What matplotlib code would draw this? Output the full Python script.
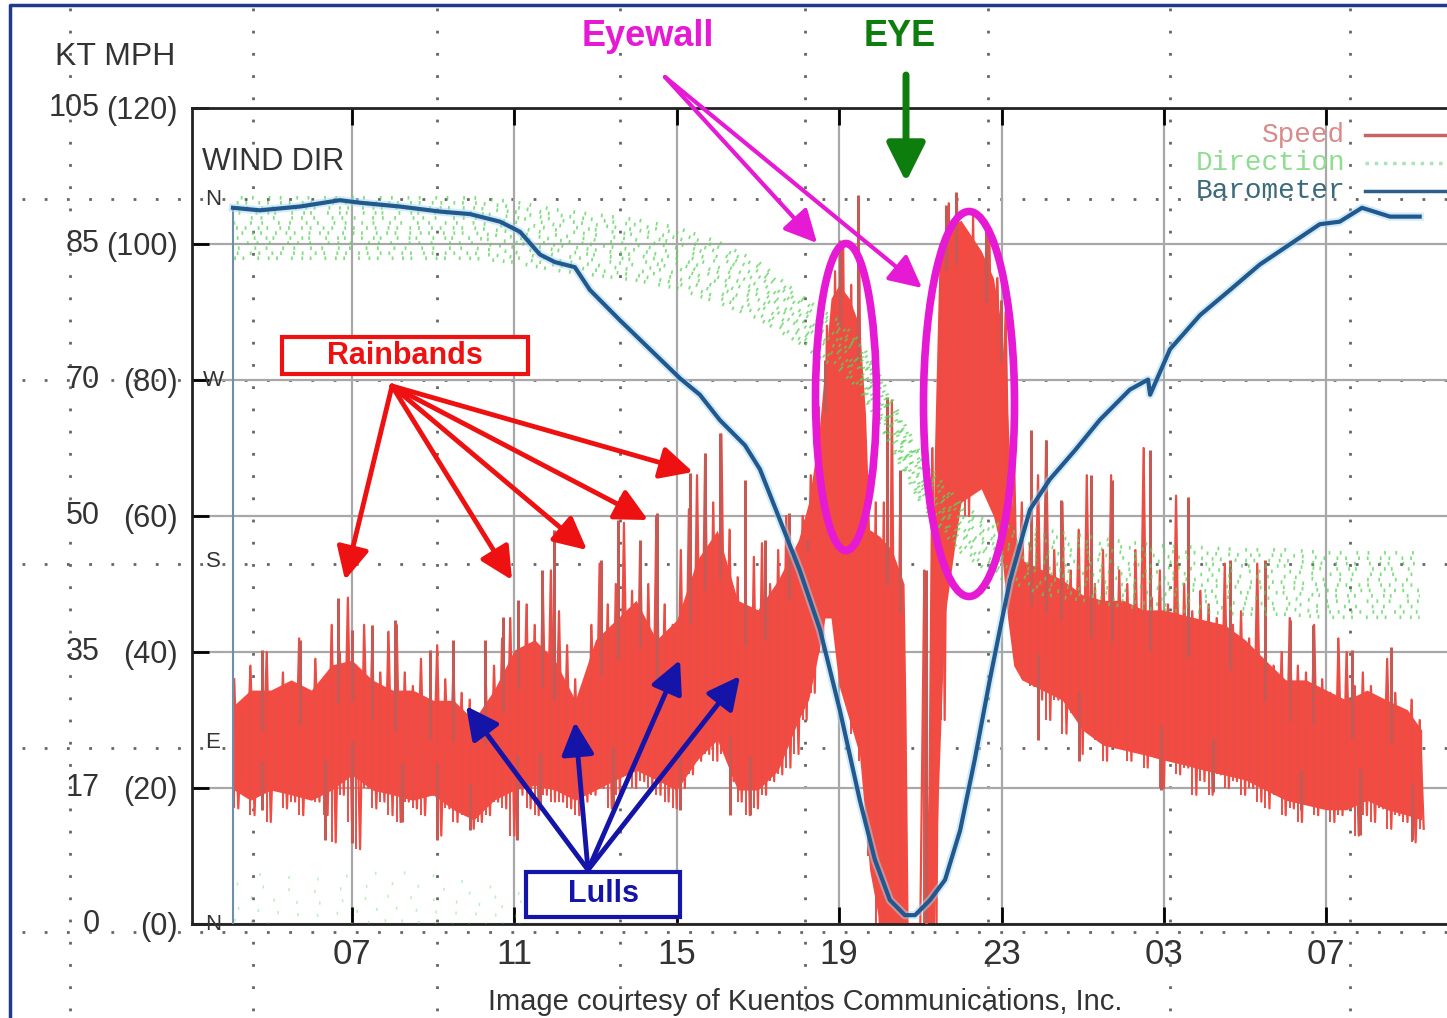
import numpy as np
import matplotlib
matplotlib.use("Agg")
import matplotlib.pyplot as plt
from matplotlib import font_manager as fm
from matplotlib.patches import Ellipse, Rectangle

#   Fonts: a narrow sans for the axis text if there is one
names = {f.name for f in fm.fontManager.ttflist}
NARROW = "Liberation Sans Narrow" if "Liberation Sans Narrow" in names else "Liberation Sans"
SANS = "Liberation Sans"
MONO = "Liberation Mono"

#   Axis ticks and labels (x in hours since midnight of day 1)
hour_ticks = [7, 11, 15, 19, 23, 27, 31]
hour_labels = ["07", "11", "15", "19", "23", "03", "07"]
mph_ticks = [0, 20, 40, 60, 80, 100, 120]
mph_labels = ["(0)", "(20)", "(40)", "(60)", "(80)", "(100)", "(120)"]
kt_labels = ["0", "17", "35", "50", "70", "85", "105"]
dir_ticks = [0, 90, 180, 270, 360]
dir_labels = ["N", "E", "S", "W", "N"]

#   Wind speed (mph): body of the trace, low and high edge
speed_t = [4.1, 4.5, 5.0, 5.5, 6.0, 6.5, 7.0, 7.5, 8.0, 8.5, 9.0, 9.5, 10.0,
           10.5, 11.0, 11.5, 12.0, 12.5, 13.0, 13.5, 14.0, 14.5, 15.0, 15.5,
           16.0, 16.5, 17.0, 17.5, 18.0, 18.25, 18.5, 18.65, 18.8, 19.0,
           19.25, 19.5, 19.65, 19.75, 20.0, 20.3, 20.6, 20.65, 20.7, 21.15,
           21.25, 21.35, 21.45, 21.6, 22.0, 22.5, 22.8, 23.0, 23.15, 23.3,
           23.5, 24.0, 24.5, 25.0, 25.5, 26.0, 26.5, 27.0, 27.5, 28.0, 28.5,
           29.0, 29.5, 30.0, 30.5, 31.0, 31.5, 32.0, 32.5, 33.0, 33.35]
speed_hi = [32.2, 34.4, 34.4, 35.9, 34.4, 38.1, 38.8, 35.9, 34.4, 34.4, 32.9,
            32.9, 30.0, 34.4, 40.3, 41.8, 38.8, 32.9, 41.8, 44.7, 47.6, 41.8,
            44.7, 53.5, 57.9, 47.6, 46.2, 50.6, 56.5, 62.0, 72.0, 82.0, 92.0,
            94.0, 92.0, 88.0, 75.0, 58.0, 57.0, 55.0, 50.0, 30.0, 0.0, 0.0,
            30.0, 70.0, 95.0, 102.0, 103.5, 99.0, 95.0, 88.0, 75.0, 58.0,
            53.5, 52.1, 50.6, 48.4, 47.6, 47.6, 46.2, 46.2, 45.4, 44.7, 44.0,
            41.8, 38.8, 35.9, 35.9, 34.4, 32.9, 34.4, 32.9, 31.5, 28.5]
speed_lo = [19.7, 18.2, 19.7, 19.0, 18.2, 19.7, 21.9, 19.7, 19.0, 18.2, 19.0,
            16.8, 15.3, 18.2, 19.7, 20.4, 19.7, 18.2, 19.7, 21.2, 22.6, 21.2,
            19.7, 24.1, 27.1, 19.7, 19.7, 22.6, 30.0, 33.0, 40.0, 45.0, 45.0,
            35.0, 30.0, 25.0, 15.0, 8.0, 0.0, 0.0, 0.0, 0.0, 0.0, 0.0,
            0.0, 0.0, 20.0, 45.0, 62.0, 64.0, 60.0, 55.0, 45.0, 38.0,
            35.9, 34.4, 32.9, 28.5, 26.3, 25.6, 24.9, 24.1, 23.4, 22.6, 21.9,
            21.2, 19.7, 18.2, 17.5, 16.8, 16.8, 18.2, 16.8, 16.0, 15.3]

#   Gust readings every 12 minutes from 04:06: peak and trough (mph)
gust_t = [round(4.1 + 0.2 * i, 1) for i in range(147)]
gust_top = [36, 31, 38, 34, 40, 33, 37, 35, 42, 34,
            39, 36, 44, 40, 48, 38, 44, 41, 37, 43,
            44, 37, 35, 39, 33, 41, 36, 38, 34, 33,
            31, 35, 38, 42, 45, 40, 47, 44, 50, 52,
            46, 41, 36, 35, 44, 53, 47, 50, 59, 49,
            56, 50, 60, 47, 44, 55, 61, 66, 69, 62,
            72, 58, 51, 49, 54, 56, 50, 55, 60, 54,
            60, 66, 76, 88, 96, 100, 94, 96, 66, 62,
            62, 77, 60, 0, 0, 52, 70, 100, 106, 107,
            98, 104, 96, 102, 95, 90, 72, 62, 56, 66,
            71, 55, 62, 52, 58, 66, 50, 55, 66, 52,
            50, 55, 70, 48, 52, 47, 63, 50, 46, 49,
            47, 45, 53, 44, 46, 42, 53, 41, 38, 40,
            45, 38, 37, 44, 36, 34, 42, 40, 35, 37,
            35, 33, 39, 34, 31, 33, 30]
gust_bot = [17, 21, 16, 19, 15, 20, 17, 18, 16, 19,
            18, 16, 12, 19, 15, 11, 20, 17, 18, 16,
            15, 18, 17, 16, 19, 13, 17, 15, 16, 14,
            15, 16, 18, 17, 13, 19, 17, 16, 19, 18,
            18, 17, 16, 18, 19, 20, 17, 19, 22, 20,
            21, 20, 19, 18, 17, 20, 22, 24, 25, 24,
            25, 21, 18, 16, 17, 19, 21, 22, 23, 25,
            30, 34, 40, 46, 44, 34, 28, 24, 10, 0,
            0, 0, 0, 0, 0, 0, 0, 30, 55, 62,
            60, 64, 66, 62, 66, 55, 40, 36, 35, 33,
            30, 33, 28, 31, 25, 29, 27, 24, 26, 28,
            24, 26, 23, 25, 20, 24, 22, 23, 19, 21,
            19, 22, 20, 21, 19, 20, 18, 17, 19, 16,
            17, 15, 18, 16, 17, 15, 16, 17, 13, 16,
            15, 17, 14, 16, 15, 12, 14]

#   Tallest single gusts and deepest dips
spike_up_t = [4.78, 5.72, 6.66, 7.0, 7.49, 8.06, 8.92, 9.49, 10.28, 10.73,
              11.1, 11.67, 11.97, 13.13, 13.55, 14.1, 14.51, 15.32, 15.69,
              16.06, 16.68, 17.17, 17.76, 18.2, 18.64, 19.02, 19.46, 20.18,
              20.5, 21.14, 21.64, 21.88, 22.62, 22.98, 23.72, 24.09, 24.46,
              25.2, 25.72, 26.66, 27.59, 28.64, 29.5, 30.1, 30.67, 31.63, 32.6]
spike_up_v = [40.3, 41.8, 47.9, 43.2, 44.0, 44.7, 40.3, 41.8, 41.8, 45.1,
              47.6, 52.1, 57.9, 53.5, 59.4, 56.5, 60.4, 66.3, 69.3, 72.2, 65.3,
              56.5, 60.4, 56.5, 82.9, 100.6, 107.2, 77.5, 66.8, 52.1, 105.7,
              107.6, 102.0, 91.8, 72.6, 71.2, 62.4, 66.0, 65.3, 69.7, 62.8,
              53.5, 53.5, 44.7, 44.0, 40.3, 40.7]
spike_dn_t = [4.78, 6.33, 7.0, 8.23, 9.09, 9.91, 11.06, 11.63, 13.42, 15.08,
              16.31, 16.8, 23.9, 24.91, 26.93, 28.2, 30.37, 31.83, 33.1]
spike_dn_v = [16.8, 12.4, 11.9, 15.0, 12.4, 13.8, 12.4, 16.8, 16.8, 16.8,
              16.0, 16.0, 27.0, 24.0, 19.7, 19.4, 16.8, 13.1, 12.4]

#   Wind direction (degrees): centre of the scatter and its half width
dir_t = [4.1, 5, 6, 7, 8, 9, 10, 11, 12, 13, 14, 15, 16, 17, 18, 18.5, 19,
         19.5, 20, 20.5, 21, 21.5, 22, 22.5, 23, 24, 25, 26, 27, 28, 29, 30,
         31, 32, 33.3]
dir_mid = [345.6, 345.6, 345.6, 345.6, 345.6, 345.6, 345.6, 343.6, 339.7,
           337.2, 334.7, 330.7, 323.8, 314.8, 300.9, 293.5, 287.5, 277.6,
           260.2, 240.4, 221.5, 208.1, 196.7, 189.7, 184.7, 179.8, 176.8,
           173.8, 171.8, 170.8, 169.8, 169.8, 168.3, 168.3, 168.3]
dir_spread = [15, 15, 15, 15, 15, 15, 15, 15, 15, 15, 15, 15, 15, 14, 12, 12,
              12, 12, 12, 12, 12, 12, 12, 12, 13, 16, 16, 16, 16, 16, 16, 16,
              16, 16, 16]
#   readings that wrapped past north (shown near 0 degrees)
wrap_t = [4.1, 5, 6, 7, 8, 9, 10, 11, 11.5]
wrap_mid = [14, 12, 10, 12, 14, 12, 10, 8, 6]
wrap_spread = [12, 12, 12, 12, 12, 12, 10, 8, 6]

#   Barometer (mb)
baro_t = [4.07, 4.07, 4.73, 5.72, 6.70, 7.20, 8.18, 9.17, 9.91, 10.65, 11.14,
          11.63, 12.00, 12.49, 12.86, 13.60, 14.34, 15.08, 15.57, 16.06,
          16.68, 17.05, 17.54, 18.03, 18.53, 19.02, 19.51, 19.88, 20.25,
          20.62, 20.87, 21.24, 21.61, 21.98, 22.34, 22.71, 22.96, 23.21,
          23.70, 24.19, 24.81, 25.42, 26.16, 26.61, 26.66, 27.15, 27.89,
          28.63, 29.36, 30.10, 30.84, 31.33, 31.88, 32.57, 33.30]
baro_mb = [951.3, 1008.0, 1007.8, 1008.1, 1008.6, 1008.4, 1008.1, 1007.7,
           1007.5, 1006.9, 1006.1, 1004.3, 1003.7, 1003.3, 1001.5, 999.1,
           996.8, 994.5, 993.2, 991.2, 989.2, 987.3, 983.3, 979.3, 974.6,
           968.2, 961.1, 956.4, 953.2, 952.0, 952.0, 953.2, 954.8, 958.7,
           964.3, 970.6, 974.6, 978.5, 984.1, 986.5, 988.8, 991.2, 993.6,
           994.4, 993.2, 996.8, 999.5, 1001.5, 1003.5, 1005.1, 1006.7,
           1006.9, 1008.0, 1007.3, 1007.3]

#   Figure, in pixels of the 1447 x 1018 picture
W, H = 1447, 1018
fig = plt.figure(figsize=(W / 100, H / 100), dpi=100)
fig.patch.set_facecolor("white")

#   background dotted grid and frame
bg = fig.add_axes([0, 0, 1, 1], zorder=0)
bg.set_xlim(0, W)
bg.set_ylim(H, 0)
bg.axis("off")
for gx in [70, 253, 437, 620, 805, 988, 1170, 1350]:
    bg.plot([gx, gx], [8, H], ls=(0, (1, 7)), color="#666666", lw=2)
for gy in [199, 380, 564, 748, 932]:
    bg.plot([22, W], [gy, gy], ls=(0, (1, 7)), color="#666666", lw=2)
bg.plot([10, 10, W], [H, 5, 5], color="#1f3a8a", lw=2.5)

#   main axes: speed in mph
x0, x1, ytop, ybot = 192, 1470, 108, 924
ax = fig.add_axes([x0 / W, 1 - ybot / H, (x1 - x0) / W, (ybot - ytop) / H],
                  zorder=2, facecolor="none")
ax.set_xlim(3.06, 34.54)
ax.set_ylim(0, 120)
ax.set_axisbelow(True)
ax.grid(True, color="#a8a8a8", lw=1.6)
for s in ["left", "top", "bottom"]:
    ax.spines[s].set_linewidth(2)
    ax.spines[s].set_color("#222222")
ax.spines["right"].set_visible(False)
ax.set_xticks(hour_ticks)
ax.set_xticklabels(hour_labels, family=NARROW, fontsize=25, color="#333333")
ax.set_yticks(mph_ticks)
ax.set_yticklabels(mph_labels, family=SANS, fontsize=22, color="#333333")
ax.tick_params(axis="x", direction="in", length=12, width=2, top=True, pad=10)
ax.tick_params(axis="y", direction="in", length=12, width=2, pad=10)
ytr = ax.get_yaxis_transform()
for v, lab in zip(mph_ticks, kt_labels):
    ax.text((100 - x0) / (x1 - x0), v, lab, transform=ytr, ha="right",
            va="center", family=SANS, fontsize=22, color="#333333",
            clip_on=False)

red_body = "#f34a42"
ax.fill_between(speed_t, speed_lo, speed_hi, color=red_body, lw=0, zorder=2)
#   zig-zag through peak, trough, peak ... gives the noisy trace
zig_t = np.ravel(np.column_stack([gust_t, np.array(gust_t) + 0.1]))
zig_v = np.ravel(np.column_stack([gust_top, gust_bot]))
ax.plot(zig_t, zig_v, color=red_body, lw=1.6, zorder=2)
ax.vlines(gust_t, gust_bot, gust_top, color="#e55049", lw=1.4, zorder=2)
base_up = np.interp(spike_up_t, speed_t, speed_hi) - 6
ax.vlines(spike_up_t, base_up, spike_up_v, color="#c45a55", lw=2.2, zorder=3)
base_dn = np.interp(spike_dn_t, speed_t, speed_lo) + 5
ax.vlines(spike_dn_t, spike_dn_v, base_dn, color="#c45a55", lw=2.2, zorder=3)

#   direction on its own scale (N at the bottom and again near the top)
ax2 = ax.twinx()
ax2.set_ylim(0, 405.2)
ax2.axis("off")
green = "#5ad25a"
patterns = [(0.5, 1.8, 0.5, 3.6, 0.5, 2.4), (0.5, 2.6, 0.5, 4.1),
            (0.5, 1.4, 0.5, 4.2, 0.5, 2.8), (0.5, 3.1, 0.5, 1.9),
            (0.5, 2.2, 0.5, 2.9, 0.5, 4.6)]
offsets = [0, 5.3, 2.1, 7.7, 1.2, 4.4, 9.1, 3.3, 6.6, 0.7, 8.2, 2.9, 5.9]
for k, f in enumerate(np.linspace(-1, 1, 13)):
    ax2.plot(dir_t, np.array(dir_mid) + f * np.array(dir_spread),
             ls=(offsets[k], patterns[(3 * k) % 5]), color=green, lw=2.6,
             alpha=0.75)
for k, f in enumerate(np.linspace(-1, 1, 5)):
    ax2.plot(wrap_t, np.array(wrap_mid) + f * np.array(wrap_spread),
             ls=(offsets[k], (0.5, 5 + k)), color=green, lw=2.2, alpha=0.4)
dtr = ax2.get_yaxis_transform()
for v, lab in zip(dir_ticks, dir_labels):
    ax2.text((213 - x0) / (x1 - x0), v, lab, transform=dtr, ha="center",
             va="center", family=SANS, fontsize=16, color="#333333")

#   barometer on a hidden pressure scale
ax3 = ax.twinx()
ax3.set_ylim(951.3, 1015.9)
ax3.axis("off")
ax3.plot(baro_t[:2], baro_mb[:2], color="#6f8fa8", lw=1.5)
ax3.plot(baro_t[1:], baro_mb[1:], color="#a8d8f0", lw=6, alpha=0.5)
ax3.plot(baro_t[1:], baro_mb[1:], color="#21598f", lw=3)

#   annotation layer in picture pixels
ov = fig.add_axes([0, 0, 1, 1], zorder=5, facecolor="none")
ov.set_xlim(0, W)
ov.set_ylim(H, 0)
ov.axis("off")

ov.text(115, 57, "KT MPH", ha="center", va="center", family=SANS,
        fontsize=23, color="#333333")
ov.text(273, 162, "WIND DIR", ha="center", va="center", family=SANS,
        fontsize=22, color="#333333")
ov.text(805, 1002, "Image courtesy of Kuentos Communications, Inc.",
        ha="center", va="center", family=NARROW, fontsize=21, color="#333333")

#   legend, text on the left of its sample line
leg = [("Speed", "#d98a8a", "#c86464", "-"),
       ("Direction", "#90dc90", "#a8e4b8", ":"),
       ("Barometer", "#3a6a7c", "#2e5f8a", "-")]
for i, (lab, tc, lc, ls) in enumerate(leg):
    yy = 135 + 28 * i
    ov.text(1345, yy, lab, ha="right", va="center", family=MONO, fontsize=20,
            color=tc)
    ov.plot([1365, W], [yy, yy], color=lc, lw=2.5, ls=ls)

red = "#ee1111"
blue = "#1414a8"
mag = "#e619d4"
dgreen = "#0d7d0d"

def arrow(x_a, y_a, x_b, y_b, c, lw=3.5, scale=22):
    ov.annotate("", xy=(x_b, y_b), xytext=(x_a, y_a),
                arrowprops=dict(arrowstyle="-|>,head_length=0.9,head_width=0.45",
                                color=c, lw=lw, mutation_scale=scale,
                                shrinkA=0, shrinkB=0))

#   rainbands
ov.add_patch(Rectangle((282, 337), 246, 37, fill=True, fc="white", ec=red,
                       lw=3))
ov.text(405, 356, "Rainbands", ha="center", va="center", family=SANS,
        fontsize=22, fontweight="bold", color=red)
for xb, yb in [(345, 580), (512, 580), (587, 550), (648, 520), (693, 472)]:
    arrow(392, 386, xb, yb, red)

#   lulls
ov.add_patch(Rectangle((526, 872), 154, 45, fill=True, fc="white", ec=blue,
                       lw=3))
ov.text(603, 894, "Lulls", ha="center", va="center", family=SANS,
        fontsize=22, fontweight="bold", color=blue)
for xb, yb in [(466, 706), (575, 722), (680, 660), (740, 676)]:
    arrow(588, 870, xb, yb, blue)

#   eyewall and eye
ov.text(648, 36, "Eyewall", ha="center", va="center", family=SANS,
        fontsize=26, fontweight="bold", color=mag)
arrow(665, 77, 817, 243, mag, lw=3)
arrow(665, 77, 922, 288, mag, lw=3)
ov.add_patch(Ellipse((846, 397), 61, 307, fill=False, ec=mag, lw=5.5))
ov.add_patch(Ellipse((969, 404), 91, 385, fill=False, ec=mag, lw=5.5))
ov.text(900, 36, "EYE", ha="center", va="center", family=SANS, fontsize=26,
        fontweight="bold", color=dgreen)
arrow(906, 75, 906, 182, dgreen, lw=5, scale=26)

fig.savefig("out.png", dpi=100, facecolor="white")
